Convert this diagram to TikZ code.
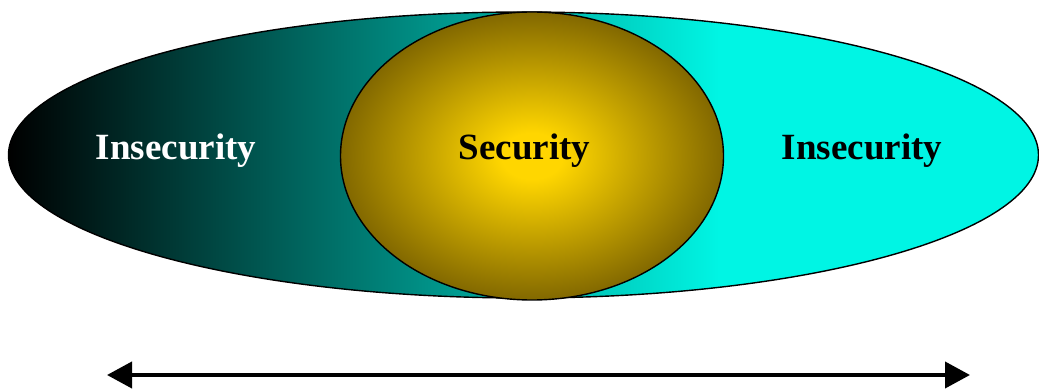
\documentclass[tikz,border=0pt]{standalone}
\usepackage{fontspec}
\setmainfont{Liberation Serif}
\usetikzlibrary{arrows.meta}
% colours
\definecolor{seacyan}{RGB}{0,245,228}
\definecolor{goldcore}{RGB}{255,214,0}
\definecolor{goldrim}{RGB}{130,104,0}
% black-to-cyan band, flat cyan on the right third
% (the path's bounding box spans 25bp..75bp of the shading)
\pgfdeclarehorizontalshading{insecshade}{100bp}{%
  color(0bp)=(black); color(25bp)=(black); color(59.5bp)=(seacyan); color(100bp)=(seacyan)}
% bright core fading to a dark olive rim
\pgfdeclareradialshading{secshade}{\pgfpoint{0bp}{0bp}}{%
  color(0bp)=(goldcore); color(4bp)=(goldcore); color(25bp)=(goldrim); color(50bp)=(goldrim)}
\tikzset{
  zone/.style={draw=black, line width=1.4pt},
  label/.style={font=\fontsize{37}{40}\selectfont\bfseries, anchor=base},
  span/.style={line width=4pt, {Triangle[length=25pt,width=26pt]}-{Triangle[length=25pt,width=26pt]}}
}
\begin{document}
\begin{tikzpicture}[x=1pt,y=-1pt]
  \useasboundingbox (0,0) rectangle (1039,390);
  % outer band
  \path[zone, shading=insecshade] (523.5,155) ellipse [x radius=515, y radius=143];
  % inner zone
  \path[zone, shading=secshade] (532,156) ellipse [x radius=191.5, y radius=144];
  % labels
  \node[label, text=white] (insL) at (176,160) {Insecurity};
  \node[label, text=black] (sec) at (524.5,160) {Security};
  \node[label, text=black] (insR) at (862,160) {Insecurity};
  % range arrow
  \coordinate (aL) at (107,375);
  \coordinate (aR) at (970,375);
  \draw[span] (aL) -- (aR);
\end{tikzpicture}
\end{document}
